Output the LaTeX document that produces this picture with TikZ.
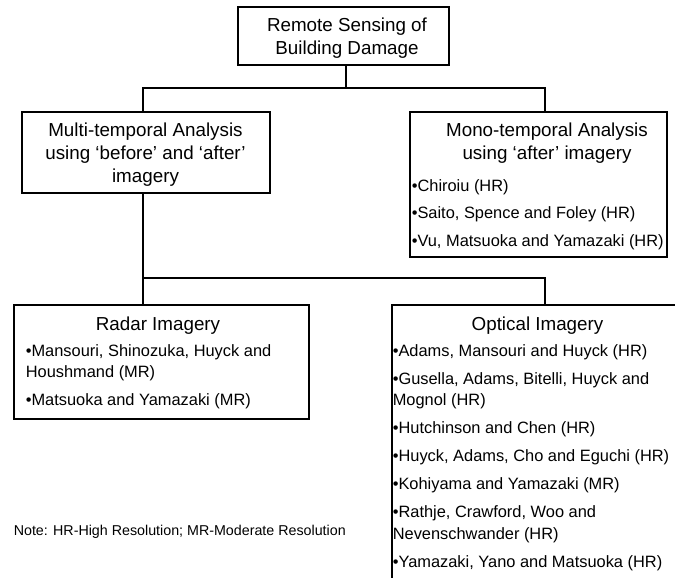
\documentclass[tikz,border=0pt]{standalone}
\usepackage{fontspec}
\setmainfont{Liberation Sans}
\newlength{\px}\setlength{\px}{0.75pt}
\newcommand{\headfont}{\fontsize{14.1pt}{17.5pt}\selectfont}
\newcommand{\entryfont}{\fontsize{12.3pt}{16pt}\selectfont}
\newcommand{\notefont}{\fontsize{10.7pt}{12.5pt}\selectfont}

\begin{document}
\begin{tikzpicture}[x=0.75pt, y=-0.75pt, line width=1.2pt,
    box/.style={draw, inner sep=0pt, anchor=north west},
    head/.style={font=\headfont, inner sep=0pt, anchor=base},
    entry/.style={font=\entryfont, inner sep=0pt, anchor=base west},
    link/.style={line cap=rect}]
	% 0. 画布范围 (右下角的框被裁掉)
	\path[use as bounding box, clip] (0,0) rectangle (675,578);
	
	% 1. 各个方框
	\node[box, minimum width=211\px, minimum height=58\px] (title) at (237,6) {};
	\node[box, minimum width=248\px, minimum height=81\px] (multi) at (21,111) {};
	\node[box, minimum width=257\px, minimum height=145\px] (mono) at (409,111) {};
	\node[box, minimum width=295\px, minimum height=114\px] (radar) at (13,304) {};
	\node[box, minimum width=320\px, minimum height=320\px] (optical) at (391,304) {};
	
	% 2. 分叉点
	\coordinate (topfork) at (346,88);
	\coordinate (forkL) at (143,88);
	\coordinate (forkR) at (545,88);
	\coordinate (lowfork) at (143,278);
	\coordinate (lowforkR) at (545,278);
	
	% 3. 连线
	\draw[link] (title.south -| topfork) -- (topfork);
	\draw[link] (multi.north -| forkL) -- (forkL) -- (forkR) -- (mono.north -| forkR);
	\draw[link] (multi.south -| lowfork) -- (radar.north -| lowfork);
	\draw[link] (lowfork) -- (lowforkR) -- (optical.north -| lowforkR);
	
	% 4. 标题文字
	\node[head] (title-1) at (347,31.7) {Remote Sensing of};
	\node[head] (title-2) at (347,55) {Building Damage};
	
	\node[head] (multi-1) at (145.5,136) {Multi-temporal Analysis};
	\node[head] (multi-2) at (145.5,159) {using ‘before’ and ‘after’};
	\node[head] (multi-3) at (145.5,182) {imagery};
	
	\node[head] (mono-1) at (547,136) {Mono-temporal Analysis};
	\node[head] (mono-2) at (547,159.5) {using ‘after’ imagery};
	
	\node[head] (radar-0) at (158,330) {Radar Imagery};
	\node[head] (optical-0) at (537.5,330) {Optical Imagery};
	
	% 5. 文献条目 (每行一个节点)
	\foreach \y/\t [count=\i] in {191/{•Chiroiu (HR)},
	    218.5/{•Saito, Spence and Foley (HR)},
	    246/{•Vu, Matsuoka and Yamazaki (HR)}}
	  \node[entry] (mono-item-\i) at (411,\y) {\t};
	
	\foreach \y/\t [count=\i] in {356/{•Mansouri, Shinozuka, Huyck and},
	    377.5/{Houshmand (MR)},
	    405.5/{•Matsuoka and Yamazaki (MR)}}
	  \node[entry] (radar-item-\i) at (25,\y) {\t};
	
	\foreach \y/\t [count=\i] in {356/{•Adams, Mansouri and Huyck (HR)},
	    384/{•Gusella, Adams, Bitelli, Huyck and},
	    405.5/{Mognol (HR)},
	    433.5/{•Hutchinson and Chen (HR)},
	    461.5/{•Huyck, Adams, Cho and Eguchi (HR)},
	    489.5/{•Kohiyama and Yamazaki (MR)},
	    517.5/{•Rathje, Crawford, Woo and},
	    539/{Nevenschwander (HR)},
	    567/{•Yamazaki, Yano and Matsuoka (HR)}}
	  \node[entry] (optical-item-\i) at (392,\y) {\t};
	
	% 6. 注释
	\node[font=\notefont, inner sep=0pt, anchor=base west] (note) at (13,535) {Note: HR-High Resolution; MR-Moderate Resolution};
\end{tikzpicture}
\end{document}
